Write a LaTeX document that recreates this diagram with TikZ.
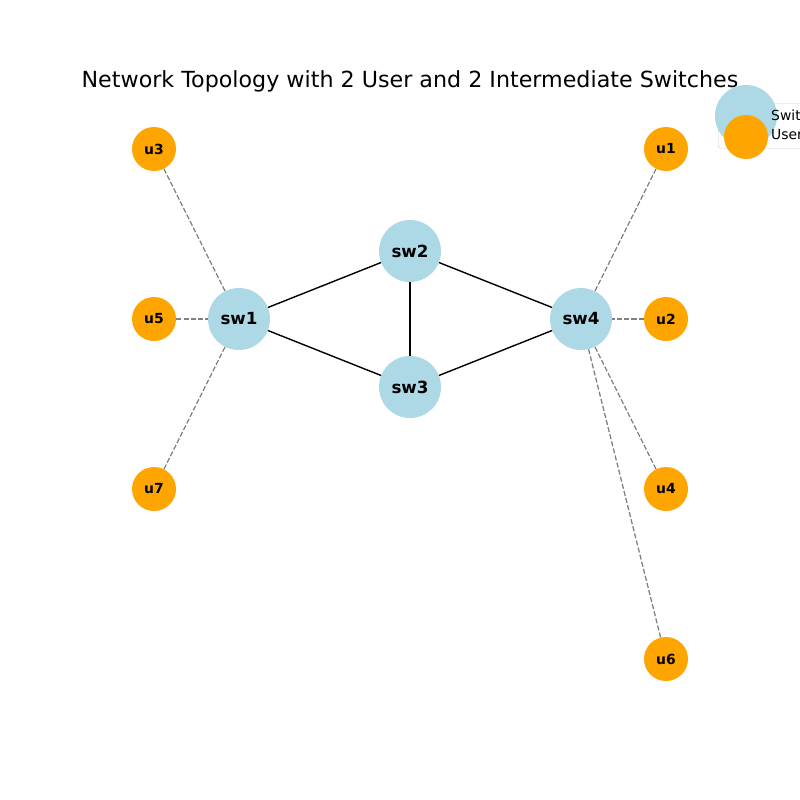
\documentclass[tikz,border=0pt]{standalone}
\usepackage{fontspec}
\setmainfont{DejaVu Sans}
\usepackage{tikz}

\definecolor{swblue}{HTML}{ADD8E6}
\definecolor{usrorange}{HTML}{FFA500}
\definecolor{legframe}{HTML}{CCCCCC}
\tikzset{
  swnode/.style={circle,fill=swblue,minimum size=62pt,inner sep=0pt,font=\fontsize{16.7}{20}\selectfont\bfseries},
  usrnode/.style={circle,fill=usrorange,minimum size=44pt,inner sep=0pt,font=\fontsize{13.9}{16}\selectfont\bfseries},
  swlink/.style={black,line width=1.4pt},
  usrlink/.style={gray,line width=1.3pt,dash pattern=on 5.1pt off 2.2pt},
  legtext/.style={anchor=west,inner sep=0pt,font=\fontsize{13.9}{16}\selectfont}
}

\begin{document}
\begin{tikzpicture}[x=1pt,y=-1pt]
\useasboundingbox (0,0) rectangle (800,800);
\clip (0,0) rectangle (800,800);
\node (T) at (410,81) {\fontsize{22.2}{26}\selectfont Network Topology with 2 User and 2 Intermediate Switches};
% switches
\node[swnode] (sw1) at (239,319) {sw1};
\node[swnode] (sw2) at (410,251) {sw2};
\node[swnode] (sw3) at (410,387) {sw3};
\node[swnode] (sw4) at (581,319) {sw4};
% users
\node[usrnode] (u3) at (154,149) {u3};
\node[usrnode] (u5) at (154,319) {u5};
\node[usrnode] (u7) at (154,489) {u7};
\node[usrnode] (u1) at (666,149) {u1};
\node[usrnode] (u2) at (666,319) {u2};
\node[usrnode] (u4) at (666,489) {u4};
\node[usrnode] (u6) at (666,659) {u6};
% links
\draw[swlink] (sw1)--(sw2);
\draw[swlink] (sw1)--(sw3);
\draw[swlink] (sw2)--(sw3);
\draw[swlink] (sw2)--(sw4);
\draw[swlink] (sw3)--(sw4);
\draw[usrlink] (u3)--(sw1);
\draw[usrlink] (u5)--(sw1);
\draw[usrlink] (u7)--(sw1);
\draw[usrlink] (u1)--(sw4);
\draw[usrlink] (u2)--(sw4);
\draw[usrlink] (u4)--(sw4);
\draw[usrlink] (u6)--(sw4);
% legend
\node (L) [draw=legframe,fill=white,fill opacity=.8,rounded corners=3pt,minimum width=122pt,minimum height=45pt,anchor=north west] at (718,103) {};
\node (LS) [circle,fill=swblue,minimum size=62pt,inner sep=0pt] at (746,116) {};
\node (LU) [circle,fill=usrorange,minimum size=44pt,inner sep=0pt] at (746,137) {};
\node[legtext] (LST) at (771,115) {Switch};
\node[legtext] (LUT) at (771,135) {User};
\end{tikzpicture}
\end{document}
